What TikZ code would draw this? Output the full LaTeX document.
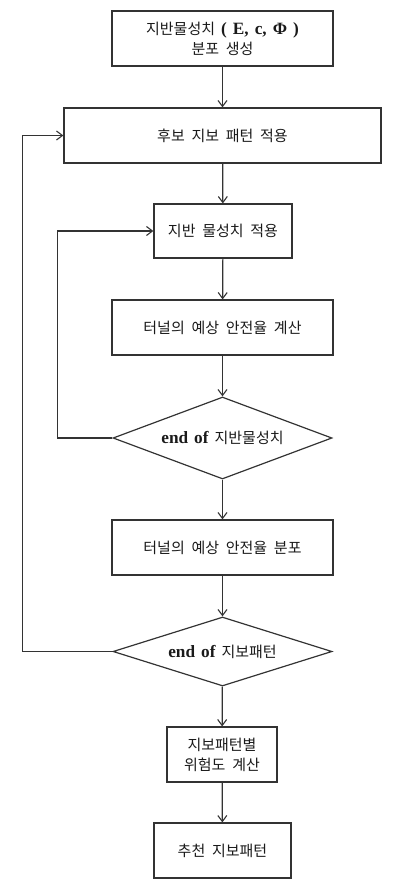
\documentclass[tikz,border=0pt]{standalone}
\usepackage{fontspec}
\setmainfont{Noto Sans CJK KR}[WordSpace=2]
\newfontfamily\serifb{Liberation Serif}[Scale=1.15, WordSpace=1.4]
\usetikzlibrary{shapes.geometric,arrows.meta}
\definecolor{ln}{HTML}{333333}
\definecolor{tx}{HTML}{1A1A1A}
\tikzset{
  boxst/.style={draw=ln, line width=1.2pt, rectangle, inner sep=0pt, align=center, text=tx, font=\fontsize{15}{20}\selectfont},
  dia/.style={draw=ln, line width=1.2pt, diamond, inner sep=0pt, align=center, text=tx, font=\fontsize{15}{20}\selectfont},
  arr/.style={draw=ln, line width=1.2pt, -{Straight Barb[length=6pt,width=9pt,line width=1.1pt]}},
  ln/.style={draw=ln, line width=1.2pt}
}
\begin{document}
\begin{tikzpicture}[x=1pt,y=-1pt]
\useasboundingbox (0,0) rectangle (400,889);
\node[boxst, minimum width=221pt, minimum height=55pt] (b1) at (222.5,38.5) {지반물성치{\serifb\bfseries{} ( E, c, Φ )}\\분포 생성};
\node[boxst, minimum width=317pt, minimum height=55pt] (b2) at (222.5,135.5) {후보 지보 패턴 적용};
\node[boxst, minimum width=138pt, minimum height=54pt] (b3) at (223,231) {지반 물성치 적용};
\node[boxst, minimum width=221pt, minimum height=55pt] (b4) at (222.5,327.5) {터널의 예상 안전율 계산};
\node[dia, aspect=2.67, minimum width=219pt, minimum height=82pt] (d1) at (222.5,438) {{\serifb\bfseries end of }지반물성치};
\node[boxst, minimum width=221pt, minimum height=55pt] (b5) at (222.5,547.5) {터널의 예상 안전율 분포};
\node[dia, aspect=3.17, minimum width=219pt, minimum height=69pt] (d2) at (222.5,651.5) {{\serifb\bfseries end of }지보패턴};
\node[boxst, minimum width=110pt, minimum height=55pt] (b6) at (222,754.5) {지보패턴별\\위험도 계산};
\node[boxst, minimum width=137pt, minimum height=55pt] (b7) at (222.5,850.5) {추천 지보패턴};
\draw[arr] (b1) -- (b2);
\draw[arr] (b2) -- (b3);
\draw[arr] (b3) -- (b4);
\draw[arr] (b4) -- (d1);
\draw[arr] (d1) -- (b5);
\draw[arr] (b5) -- (d2);
\draw[arr] (d2) -- (b6);
\draw[arr] (b6) -- (b7);
\draw[arr] (d1.west) -- ++(-55,0) |- (b3.west);
\draw[arr] (d2.west) -- ++(-90,0) |- (b2.west);
\end{tikzpicture}
\end{document}
